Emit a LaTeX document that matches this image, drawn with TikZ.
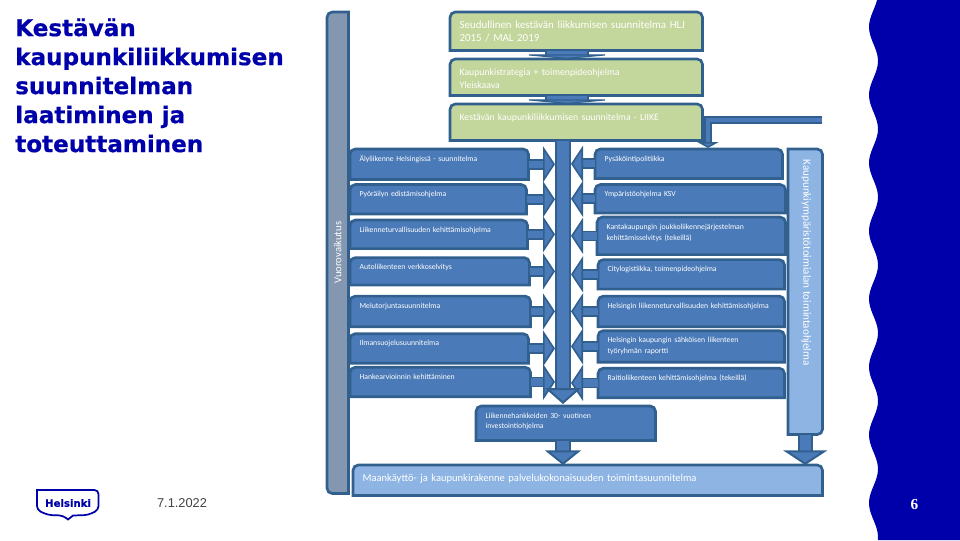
\documentclass[tikz,border=0pt]{standalone}
\usepackage{fontspec}
\setmainfont{Carlito}
\newfontfamily\dejafont[BoldFeatures={FakeBold=0.6}]{DejaVu Sans}
\newfontfamily\arialfont{Liberation Sans}
\newfontfamily\timesfont{Liberation Serif}
\usepackage{tikz}
\usetikzlibrary{arrows.meta, positioning, backgrounds}
\definecolor{edgeblue}{HTML}{31608F}
\definecolor{boxblue}{HTML}{4A7AB8}
\definecolor{boxgreen}{HTML}{C3D69B}
\definecolor{boxlight}{HTML}{8EB4E3}
\definecolor{boxgray}{HTML}{8497B0}
\definecolor{waveblue}{HTML}{0000AA}
\tikzset{
    cornerbox/.style n args={5}{append after command={\pgfextra{\begin{pgfonlayer}{background}
        \draw[edgeblue, line width=2pt, fill=#1] (\tikzlastnode.#2) [rounded corners=4pt] -- (\tikzlastnode.#3) -- (\tikzlastnode.#4) [sharp corners] -- (\tikzlastnode.#5) -- cycle;
        \end{pgfonlayer}}}},
    topround/.style = {cornerbox={#1}{south west}{north west}{north east}{south east}},
    rightround/.style = {cornerbox={#1}{north west}{north east}{south east}{south west}},
    leftround/.style = {cornerbox={#1}{south east}{south west}{north west}{north east}},
    base/.style = {anchor=north west, inner xsep=7pt, inner ysep=4.5pt, align=left, text=white},
    bluebox/.style 2 args = {base, topround=boxblue, minimum width=#1*0.75pt, text width=#1*0.75pt-14pt, text height=4.5pt, text depth=#2*0.75pt-13.5pt, font=\fontsize{5.8}{8}\selectfont},
    greenbox/.style 2 args = {base, minimum width=#1*0.75pt, text width=#1*0.75pt-14pt, text height=7.5pt, text depth=#2*0.75pt-16.5pt, font=\fontsize{7.3}{9.75}\selectfont},
    sidebox/.style 2 args = {anchor=north west, inner sep=0pt, minimum width=#1*0.75pt, minimum height=#2*0.75pt, text=white, font=\fontsize{8}{10}\selectfont},
    blockarrow/.style = {draw=edgeblue, line width=1.25pt, double=boxblue, double distance=5.5pt, -{Triangle[fill=boxblue, length=9pt, width=27pt, line width=1.25pt]}},
    mainarrow/.style = {blockarrow, line width=1.5pt, double distance=8.5pt, -{Triangle[fill=boxblue, length=12pt, width=27pt, line width=1.5pt]}},
    downarrow/.style = {blockarrow, line width=1.5pt, double distance=8.5pt, -{Triangle[fill=boxblue, length=11pt, width=#1, line width=1.5pt]}},
    linkarrow/.style = {blockarrow, line width=1.5pt, double distance=30pt, -{Triangle[fill=boxblue, length=3.5pt, width=76pt, line width=1.5pt]}},
    thinarrow/.style = {blockarrow, line width=1.2pt, double distance=3.2pt, -{Triangle[fill=boxblue, length=4.5pt, width=16pt, line width=1.2pt]}}
}
\begin{document}
\begin{tikzpicture}[x=0.75pt, y=-0.75pt]
        \useasboundingbox (0,0) rectangle (960,540);

        % Wavy edge
        \fill[waveblue] (960,0) -- plot[domain=0:540, samples=140] ({873.5-4.5*cos((\x-27)/68*360)},\x) -- (960,540) -- cycle;
        \node (pagenum) at (914.5,504.5) [text=white, font=\timesfont\bfseries\fontsize{11.5}{12}\selectfont] {6};

        % Title and footer
        \node (title) at (15,18) [anchor=north west, inner sep=0pt, align=left, text=waveblue, font=\dejafont\bfseries\fontsize{17.3}{21.75}\selectfont] {Kestävän\\kaupunkiliikkumisen\\suunnitelman\\laatiminen ja\\toteuttaminen};
        \node (date) at (182,503.5) [text=black!75, font=\arialfont\fontsize{9.6}{11}\selectfont] {7.1.2022};

        % Helsinki logo
        \node (logo) at (68,503) [text=waveblue, font=\dejafont\bfseries\fontsize{7.6}{8}\selectfont] {Helsinki};
        \draw[waveblue, line width=1.3pt, rounded corners=3pt] (37,490) -- (37,510) -- (48,515) -- (63,515.5) [sharp corners] -- (68,519.5) -- (73,515.5) [rounded corners=3pt] -- (88,515) -- (98.5,510) -- (98.5,490) [sharp corners] -- cycle;

        % Side columns
        \node (vuoro) [sidebox={21}{481}, leftround=boxgray] at (327,12) {\rotatebox{90}{Vuorovaikutus}};
        \node (toimiala) [sidebox={34}{285}, rightround=boxlight, font=\fontsize{8.3}{10}\selectfont] at (788,149) {\rotatebox{-90}{\makebox[213pt][l]{\hspace{7.5pt}\raisebox{3pt}{Kaupunkiympäristötoimialan toimintaohjelma}}}};

        % Strategy boxes
        \node (seutu) [greenbox={252}{38}, topround=boxgreen, font=\fontsize{8.2}{9.75}\selectfont] at (450,12) {Seudullinen kestävän liikkumisen suunnitelma HLJ\\2015 / MAL 2019};
        \node (strategia) [greenbox={252}{36}, topround=boxgreen] at (450,59) {Kaupunkistrategia + toimenpideohjelma\\Yleiskaava};
        \node (liike) [greenbox={252}{36}, topround=boxgreen] at (450,104) {Kestävän kaupunkiliikkumisen suunnitelma - LIIKE};
        \coordinate (linkx) at (567,0);

        % Left programmes
        \node (aly) [bluebox={178}{30}] at (350,149) {Älyliikenne Helsingissä - suunnitelma};
        \node (pyora) [bluebox={176}{29}, below=3.75pt of aly.south west, anchor=north west] {Pyöräilyn edistämisohjelma};
        \node (turva) [bluebox={177}{28}, below=4.5pt of pyora.south west, anchor=north west] {Liikenneturvallisuuden kehittämisohjelma};
        \node (auto) [bluebox={179}{27}, below=6.75pt of turva.south west, anchor=north west] {Autoliikenteen verkkoselvitys};
        \node (melu) [bluebox={180}{30}, below=8.25pt of auto.south west, anchor=north west] {Melutorjuntasuunnitelma};
        \node (ilma) [bluebox={178}{29}, below=5.25pt of melu.south west, anchor=north west] {Ilmansuojelusuunnitelma};
        \node (hanke) [bluebox={180}{29}, below=3pt of ilma.south west, anchor=north west] {Hankearvioinnin kehittäminen};

        % Right programmes
        \node (pysakointi) [bluebox={187}{29}] at (595,149) {Pysäköintipolitiikka};
        \node (ymparisto) [bluebox={190}{28}, below=4.5pt of pysakointi.south west, anchor=north west] {Ympäristöohjelma KSV};
        \node (kanta) [bluebox={188}{37}, below=3pt of ymparisto.south west, anchor=north west, xshift=1.5pt] {Kantakaupungin joukkoliikennejärjestelman\\kehittämisselvitys (tekeillä)};
        \node (city) [bluebox={186}{29}, below=3.75pt of kanta.south west, anchor=north west, xshift=0.75pt] {Citylogistiikka, toimenpideohjelma};
        \node (hkiturva) [bluebox={186}{30}, below=5.25pt of city.south west, anchor=north west] {Helsingin liikenneturvallisuuden kehittämisohjelma};
        \node (sahko) [bluebox={186}{31}, below=3pt of hkiturva.south west, anchor=north west] {Helsingin kaupungin sähköisen liikenteen\\työryhmän raportti};
        \node (raitio) [bluebox={186}{29}, below=4.5pt of sahko.south west, anchor=north west] {Raitioliikenteen kehittämisohjelma (tekeillä)};

        % Investment and land use
        \node (invest) [bluebox={179}{34}] at (476,406) {Liikennehankkeiden 30- vuotinen\\investointiohjelma};
        \node (maank) [greenbox={469}{30}, topround=boxlight, font=\fontsize{7.9}{9.75}\selectfont] at (353,465) {Maankäyttö- ja kaupunkirakenne palvelukokonaisuuden toimintasuunnitelma};

        % Spine positions
        \coordinate (spinetop) at (563,141);
        \coordinate (spinetip) at (563,404);
        \coordinate (spineleft) at (555,0);
        \coordinate (spineright) at (571,0);
        \coordinate (toimiala_in) at (822,120);
        \coordinate (pysakointi_in) at (708,148);

        % Links between strategy boxes
        \draw [linkarrow] (seutu.south -| linkx) -- (strategia.north -| linkx);
        \draw [linkarrow] (strategia.south -| linkx) -- (liike.north -| linkx);

        % Left arrows
        \draw [blockarrow] (aly.east) -- (aly.east -| spineleft);
        \draw [blockarrow] (pyora.east) -- (pyora.east -| spineleft);
        \draw [blockarrow] (turva.east) -- (turva.east -| spineleft);
        \draw [blockarrow] (auto.east) -- (auto.east -| spineleft);
        \draw [blockarrow] (melu.east) -- (melu.east -| spineleft);
        \draw [blockarrow] (ilma.east) -- (ilma.east -| spineleft);
        \draw [blockarrow] (hanke.east) -- (hanke.east -| spineleft);

        % Right arrows
        \draw [blockarrow] (pysakointi.west) -- (pysakointi.west -| spineright);
        \draw [blockarrow] (ymparisto.west) -- (ymparisto.west -| spineright);
        \draw [blockarrow] (kanta.west) -- (kanta.west -| spineright);
        \draw [blockarrow] (city.west) -- (city.west -| spineright);
        \draw [blockarrow] (hkiturva.west) -- (hkiturva.west -| spineright);
        \draw [blockarrow] (sahko.west) -- (sahko.west -| spineright);
        \draw [blockarrow] (raitio.west) -- (raitio.west -| spineright);

        % Main flow arrows
        \draw [mainarrow] (spinetop) -- (spinetip);
        \draw [downarrow=27pt] (spinetip |- invest.south) -- (spinetip |- maank.north);
        \draw [downarrow=33pt] (toimiala.south) -- (toimiala.south |- maank.north);
        \draw [thinarrow] (toimiala_in) -| (pysakointi_in);

    \end{tikzpicture}
\end{document}
